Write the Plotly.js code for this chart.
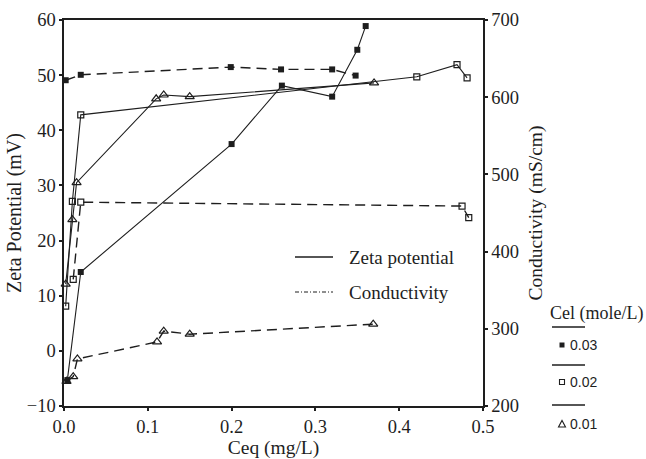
<!DOCTYPE html>
<html>
<head>
<meta charset="utf-8">
<script src="https://cdn.plot.ly/plotly-3.0.1.min.js"></script>
<style>html,body{margin:0;padding:0;background:#fff;}</style>
</head>
<body>
<div id="chart" style="width:646px;height:459px;"></div>
<script>
// ---- data (x = Ceq in mg/L) ----
// Zeta potential (mV), left axis, solid lines
const zeta003_x = [0.004, 0.020, 0.200, 0.260, 0.320, 0.350, 0.360];
const zeta003_y = [-5.3, 14.3, 37.5, 48.1, 46.1, 54.6, 58.9];
const zeta002_x = [0.002, 0.010, 0.020, 0.421, 0.469, 0.481];
const zeta002_y = [8.1, 27.1, 42.8, 49.7, 51.9, 49.5];
const zeta001_x = [0.002, 0.010, 0.015, 0.110, 0.119, 0.150, 0.370];
const zeta001_y = [12.1, 23.8, 30.5, 45.7, 46.4, 46.1, 48.6];
// extra 0.03 points lying on the y axis (Ceq ~ 0)
const zeta003_axis_x = [-0.003, -0.003, -0.003, -0.003, -0.003, -0.003, -0.003, -0.003, -0.003];
const zeta003_axis_y = [46.1, 32.0, 30.2, 20.2, 18.4, 10.3, 4.3, 0.3, -7.5];

// Conductivity (mS/cm), right axis, dashed lines
const cond003_x = [0.002, 0.020, 0.199, 0.259, 0.320, 0.348];
const cond003_y = [622, 629, 639, 636, 636, 628];
const cond002_x = [0.011, 0.020, 0.475, 0.483];
const cond002_y = [364, 464, 459, 444];
const cond001_x = [0.003, 0.011, 0.016, 0.111, 0.119, 0.150, 0.369];
const cond001_y = [232, 238, 261, 283, 297, 293, 306];

const concLabels = ['0.03', '0.02', '0.01'];
const legendTitle = 'Cel (mole/L)';
const measureLabels = ['Zeta potential', 'Conductivity'];

// ---- styling ----
const INK = '#1e1e1e';
const serif = 'Liberation Serif, Times New Roman, serif';
const sans = 'Liberation Sans, Arial, sans-serif';
const DASH = '10px,6px';

const mk = {
  filled: {symbol: 'square', size: 6, color: INK, line: {width: 0}},
  open: {symbol: 'square-open', size: 6, color: INK, line: {width: 1.2, color: INK}},
  tri: {symbol: 'triangle-up-open', size: 8, color: INK, line: {width: 1.2, color: INK}}
};

function tr(x, y, marker, dash, yaxis, name) {
  return {x: x, y: y, type: 'scatter', mode: 'lines+markers', name: name,
    yaxis: yaxis, marker: marker,
    line: {color: INK, width: dash ? 1.4 : 1.1, dash: dash || 'solid'},
    showlegend: false, cliponaxis: false, hoverinfo: 'x+y'};
}

const traces = [
  tr(cond003_x, cond003_y, mk.filled, DASH, 'y2', 'Conductivity 0.03'),
  tr(cond002_x, cond002_y, mk.open, DASH, 'y2', 'Conductivity 0.02'),
  tr(cond001_x, cond001_y, mk.tri, DASH, 'y2', 'Conductivity 0.01'),
  tr(zeta003_x, zeta003_y, mk.filled, null, 'y', 'Zeta 0.03'),
  tr(zeta002_x, zeta002_y, mk.open, null, 'y', 'Zeta 0.02'),
  tr(zeta001_x, zeta001_y, mk.tri, null, 'y', 'Zeta 0.01'),
  {x: zeta003_axis_x, y: zeta003_axis_y, type: 'scatter', mode: 'markers', yaxis: 'y',
   marker: mk.filled, showlegend: false, cliponaxis: false, name: 'Zeta 0.03 (Ceq≈0)'}
];

// pixel -> paper helpers for legend decoration (plot area 64..483 x 20..406)
const L = 64, R = 483, T = 20, B = 406;
const PX = v => (v - L) / (R - L);
const PY = v => (B - v) / (B - T);

const shapes = [];
const annotations = [];
// inner legend
shapes.push({type: 'line', xref: 'paper', yref: 'paper', x0: PX(295), x1: PX(333), y0: PY(257), y1: PY(257), line: {color: INK, width: 1.3}});
shapes.push({type: 'line', xref: 'paper', yref: 'paper', x0: PX(295), x1: PX(333), y0: PY(292), y1: PY(292), line: {color: INK, width: 1, dash: '4px,2px,1px,2px'}});
annotations.push({xref: 'paper', yref: 'paper', x: PX(347), y: PY(257), xanchor: 'left', yanchor: 'middle', showarrow: false, text: measureLabels[0], font: {family: serif, size: 19, color: INK}});
annotations.push({xref: 'paper', yref: 'paper', x: PX(347), y: PY(292), xanchor: 'left', yanchor: 'middle', showarrow: false, text: measureLabels[1], font: {family: serif, size: 19, color: INK}});

// right legend
annotations.push({xref: 'paper', yref: 'paper', x: PX(548), y: PY(313), xanchor: 'left', yanchor: 'middle', showarrow: false, text: legendTitle, font: {family: serif, size: 18, color: INK}});
const rowY = [345, 382, 424];
const sepY = [327, 365, 405];
const symX = 562;
rowY.forEach((yy, i) => {
  shapes.push({type: 'line', xref: 'paper', yref: 'paper', x0: PX(552), x1: PX(585), y0: PY(sepY[i]), y1: PY(sepY[i]), line: {color: INK, width: 1.3}});
  annotations.push({xref: 'paper', yref: 'paper', x: PX(568), y: PY(yy), xanchor: 'left', yanchor: 'middle', showarrow: false, text: concLabels[i], font: {family: sans, size: 14, color: INK}});
});
shapes.push({type: 'rect', xref: 'paper', yref: 'paper', x0: PX(symX - 2.5), x1: PX(symX + 2.5), y0: PY(rowY[0] - 2.5), y1: PY(rowY[0] + 2.5), fillcolor: INK, line: {width: 0}});
shapes.push({type: 'rect', xref: 'paper', yref: 'paper', x0: PX(symX - 2.5), x1: PX(symX + 2.5), y0: PY(rowY[1] - 2.5), y1: PY(rowY[1] + 2.5), fillcolor: 'rgba(0,0,0,0)', line: {width: 1.1, color: INK}});
shapes.push({type: 'path', xref: 'paper', yref: 'paper',
  path: 'M' + PX(symX - 3.5) + ',' + PY(rowY[2] + 3) + ' L' + PX(symX + 3.5) + ',' + PY(rowY[2] + 3) + ' L' + PX(symX) + ',' + PY(rowY[2] - 3.5) + ' Z',
  line: {width: 1.1, color: INK}, fillcolor: 'rgba(0,0,0,0)'});

const axisCommon = {
  showline: true, linecolor: INK, linewidth: 1.6, showgrid: false, zeroline: false,
  ticks: 'outside', ticklen: 3, tickwidth: 2, tickcolor: INK,
  tickfont: {family: serif, size: 18.5, color: INK}
};

const layout = {
  width: 646, height: 459,
  margin: {l: L, r: 646 - R, t: T, b: 459 - B},
  paper_bgcolor: '#ffffff', plot_bgcolor: '#ffffff',
  showlegend: false,
  xaxis: Object.assign({}, axisCommon, {
    range: [0, 0.5], dtick: 0.1, tick0: 0, tickformat: '.1f', mirror: true,
    title: {text: 'Ceq (mg/L)', font: {family: serif, size: 19.5, color: INK}, standoff: 1}
  }),
  yaxis: Object.assign({}, axisCommon, {
    range: [-10, 60], dtick: 10, tick0: 0,
    title: {text: 'Zeta Potential (mV)', font: {family: serif, size: 20, color: INK}, standoff: 0}
  }),
  yaxis2: Object.assign({}, axisCommon, {
    range: [200, 700], dtick: 100, tick0: 200, overlaying: 'y', side: 'right',
    title: {text: 'Conductivity (mS/cm)', font: {family: serif, size: 19.5, color: INK}, standoff: 10}
  }),
  shapes: shapes,
  annotations: annotations
};

Plotly.newPlot('chart', traces, layout, {displayModeBar: false, staticPlot: true});
</script>
</body>
</html>
